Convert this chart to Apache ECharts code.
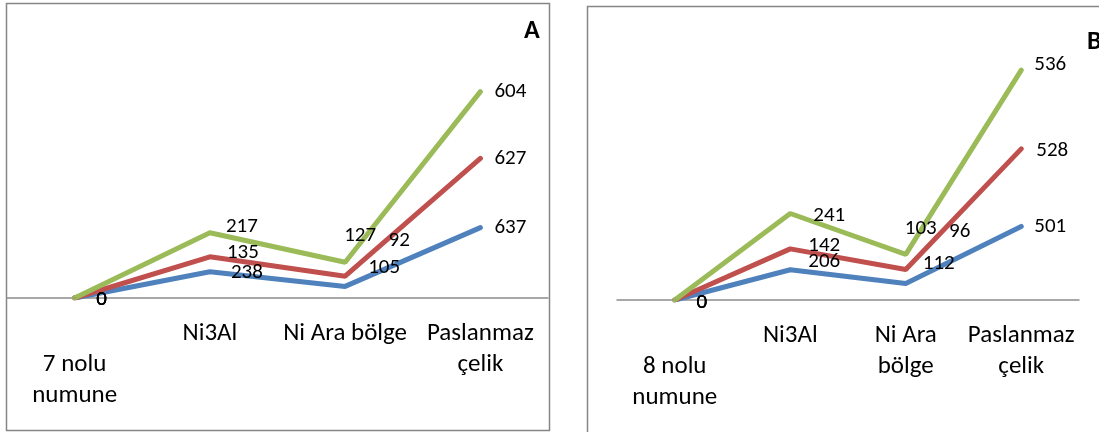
<!DOCTYPE html>
<html>
<head>
<meta charset="utf-8">
<script src="https://cdn.jsdelivr.net/npm/echarts@6/dist/echarts.min.js"></script>
<style>
  html, body { margin: 0; padding: 0; background: #fff; }
  #chart { width: 1099px; height: 432px; }
</style>
</head>
<body>
<div id="chart"></div>
<script>
// kategoriler
var catsA = ['7 nolu\nnumune', 'Ni3Al', 'Ni Ara bölge', 'Paslanmaz\nçelik']
var catsB = ['8 nolu\nnumune', 'Ni3Al', 'Ni Ara\nbölge', 'Paslanmaz\nçelik']

// A paneli (7 nolu numune)
var aBlue = [0, 238, 105, 637]
var aRed = [0, 135, 92, 627]
var aGreen = [0, 217, 127, 604]

// B paneli (8 nolu numune)
var bBlue = [0, 206, 112, 501]
var bRed = [0, 142, 96, 528]
var bGreen = [0, 241, 103, 536]

// etiket kaydirmalari (Excel'de elle tasinmis etiketler)
var offA = {
  blue: [[27, 2], [37, 1], [39, -19], [30, 0]],
  red: [[27, 2], [33, -4], [54, -35], [30, 0]],
  green: [[27, 2], [32, -6], [15, -26], [30, 0]]
}
var offB = {
  blue: [[27, 3], [34, -8], [33, -20], [29, 0]],
  red: [[27, 3], [34, -3], [54, -38], [31, 2]],
  green: [[27, 3], [39, 2], [15, -26], [29, -5]]
}

var FONT = 'Carlito, Calibri, Lato, sans-serif'
var colors = { blue: '#4F81BD', red: '#C0504D', green: '#9BBB59' }

function makeData(values, offsets) {
  return values.map(function (v, i) {
    return { value: v, label: { offset: offsets[i] } }
  })
}

function makeSeries(name, key, values, offsets, idx) {
  return {
    name: name,
    type: 'line',
    stack: 'panel' + idx,
    xAxisIndex: idx,
    yAxisIndex: idx,
    symbol: 'circle',
    symbolSize: 2,
    showSymbol: true,
    color: colors[key],
    lineStyle: { width: 5, color: colors[key], cap: 'round' },
    itemStyle: { color: colors[key] },
    label: {
      show: true,
      position: 'inside',
      align: 'center',
      verticalAlign: 'middle',
      color: '#000',
      fontSize: 21,
      fontFamily: FONT
    },
    emphasis: { disabled: true },
    animation: false,
    data: makeData(values, offsets)
  }
}

var axisLabel = {
  color: '#000',
  fontSize: 25,
  fontFamily: FONT,
  lineHeight: 31,
  margin: 20,
  interval: 0,
  verticalAlign: 'top',
  formatter: function (v, i) {
    return i === 0 ? '\n' + v : v
  }
}

var chart = echarts.init(document.getElementById('chart'))
chart.setOption({
  animation: false,
  title: [
    { text: 'A', left: 524, top: 18, padding: 0, textStyle: { fontSize: 26, fontWeight: 'bold', color: '#000', fontFamily: FONT } },
    { text: 'B', left: 1087, top: 29, padding: 0, textStyle: { fontSize: 26, fontWeight: 'bold', color: '#000', fontFamily: FONT } }
  ],
  graphic: [
    { type: 'rect', shape: { x: 6.5, y: 3.5, width: 543, height: 427 }, style: { fill: 'none', stroke: '#868686', lineWidth: 1.5 }, z: -1 },
    { type: 'rect', shape: { x: 587.5, y: 6.5, width: 600, height: 500 }, style: { fill: 'none', stroke: '#868686', lineWidth: 1.5 }, z: -1 }
  ],
  grid: [
    { left: 7, top: 77, width: 541, height: 221 },
    { left: 617, top: 65, width: 462, height: 235 }
  ],
  xAxis: [
    {
      type: 'category', gridIndex: 0, data: catsA, boundaryGap: true,
      axisTick: { show: false },
      axisLine: { lineStyle: { color: '#8c8c8c', width: 1.5 } },
      axisLabel: axisLabel
    },
    {
      type: 'category', gridIndex: 1, data: catsB, boundaryGap: true,
      axisTick: { show: false },
      axisLine: { lineStyle: { color: '#8c8c8c', width: 1.5 } },
      axisLabel: axisLabel
    }
  ],
  yAxis: [
    { type: 'value', gridIndex: 0, min: 0, max: 2000, show: false, splitLine: { show: false } },
    { type: 'value', gridIndex: 1, min: 0, max: 1600, show: false, splitLine: { show: false } }
  ],
  series: [
    makeSeries('Seri1', 'blue', aBlue, offA.blue, 0),
    makeSeries('Seri2', 'red', aRed, offA.red, 0),
    makeSeries('Seri3', 'green', aGreen, offA.green, 0),
    makeSeries('Seri1', 'blue', bBlue, offB.blue, 1),
    makeSeries('Seri2', 'red', bRed, offB.red, 1),
    makeSeries('Seri3', 'green', bGreen, offB.green, 1)
  ]
})
</script>
</body>
</html>
